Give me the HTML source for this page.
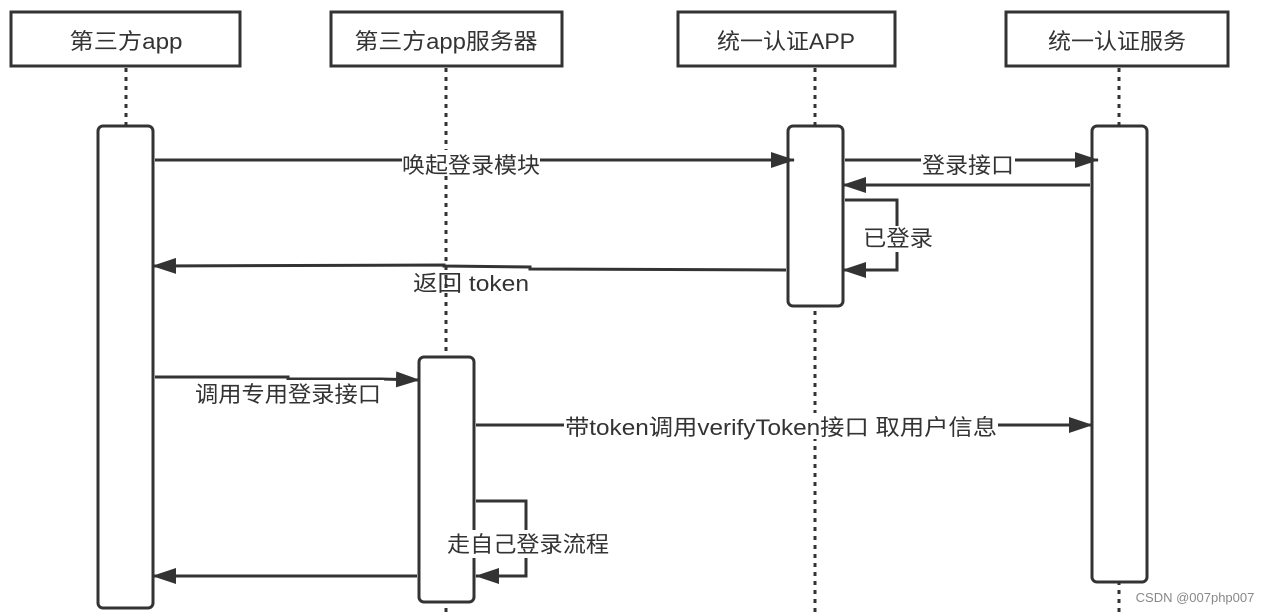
<!DOCTYPE html>
<html><head><meta charset="utf-8"><style>
body{margin:0;background:#fff;}
svg{display:block;font-family:"Liberation Sans","Noto Sans CJK SC",sans-serif;}
</style></head><body>
<svg width="1276" height="615" viewBox="0 0 1276 615">
<defs><marker id="a" markerWidth="24" markerHeight="16" refX="23" refY="8" orient="auto" markerUnits="userSpaceOnUse"><path d="M0,0 L24,8 L0,16 Z" fill="#333"/></marker></defs>
<g fill="#fff" stroke="#333" stroke-width="3">
<rect x="11" y="12" width="229" height="54"/>
<rect x="331" y="12" width="231" height="54"/>
<rect x="678" y="12" width="217" height="54"/>
<rect x="1006" y="12" width="222" height="54"/>
</g>
<g font-size="22" fill="#333" text-anchor="middle" lengthAdjust="spacingAndGlyphs">
<text x="126" y="49" textLength="113" lengthAdjust="spacingAndGlyphs">第三方app</text>
<text x="446" y="49" textLength="183" lengthAdjust="spacingAndGlyphs">第三方app服务器</text>
<text x="786" y="49" textLength="138" lengthAdjust="spacingAndGlyphs">统一认证APP</text>
<text x="1117" y="49" textLength="138" lengthAdjust="spacingAndGlyphs">统一认证服务</text>
</g>
<g stroke="#333" stroke-width="3" stroke-dasharray="4,5">
<line x1="126" y1="68" x2="126" y2="126"/>
<line x1="446" y1="68" x2="446" y2="615"/>
<line x1="815" y1="68" x2="815" y2="615"/>
<line x1="1119" y1="68" x2="1119" y2="615"/>
</g>
<g fill="#fff" stroke="#333" stroke-width="3">
<rect x="98" y="126" width="55" height="482" rx="5"/>
<rect x="788" y="126" width="55" height="180" rx="5"/>
<rect x="1092" y="126" width="55" height="456" rx="5"/>
<rect x="419" y="357" width="55" height="245" rx="5"/>
</g>
<g stroke="#333" stroke-width="3" fill="none" marker-end="url(#a)">
<line x1="155" y1="160" x2="794" y2="160"/>
<line x1="845" y1="160" x2="1098" y2="160"/>
<line x1="1090" y1="185" x2="843" y2="185"/>
<polyline points="845,200 897,200 897,270 843,270"/>
<polyline points="786,270 530,269 530,267 444,266 444,265 153,266"/>
<polyline points="155,377 288,377 288,379 380,379 419,380"/>
<line x1="476" y1="425" x2="1092" y2="425"/>
<polyline points="476,501 526,501 526,576 476,576"/>
<line x1="417" y1="576" x2="153" y2="576"/>
</g>
<g font-size="22" fill="#333" text-anchor="middle">
<rect x="402" y="150" width="138" height="26" fill="#fff"/><text x="471" y="173" textLength="138" lengthAdjust="spacingAndGlyphs">唤起登录模块</text>
<rect x="921" y="150" width="94" height="26" fill="#fff"/><text x="968" y="173" textLength="92" lengthAdjust="spacingAndGlyphs">登录接口</text>
<rect x="862" y="226" width="72" height="26" fill="#fff"/><text x="898" y="246" textLength="70" lengthAdjust="spacingAndGlyphs">已登录</text>
<text x="471" y="291" textLength="116" lengthAdjust="spacingAndGlyphs">返回 token</text>
<rect x="192" y="380" width="192" height="26" fill="#fff"/><text x="288" y="402" textLength="186" lengthAdjust="spacingAndGlyphs">调用专用登录接口</text>
<rect x="564" y="413" width="434" height="26" fill="#fff"/><text x="781" y="435" textLength="432" lengthAdjust="spacingAndGlyphs">带token调用verifyToken接口 取用户信息</text>
<rect x="446" y="530" width="164" height="28" fill="#fff"/><text x="528" y="552" textLength="162" lengthAdjust="spacingAndGlyphs">走自己登录流程</text>
</g>
<text x="1195" y="602" font-size="13" fill="#888" text-anchor="middle">CSDN @007php007</text>
</svg>
</body></html>
